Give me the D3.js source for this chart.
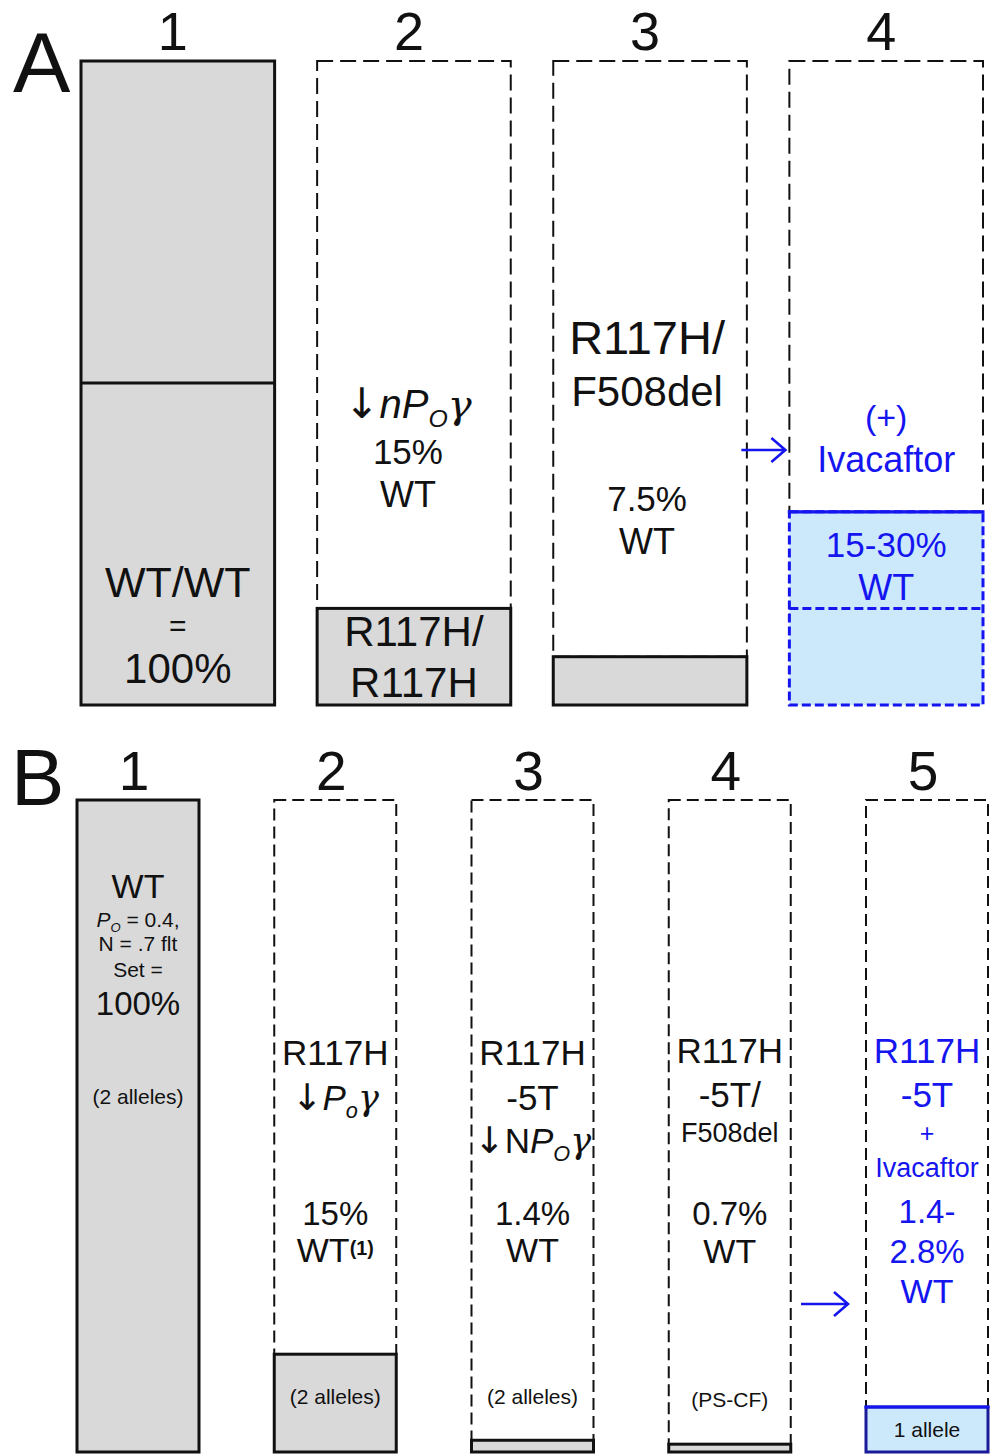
<!DOCTYPE html>
<html><head><meta charset="utf-8">
<script src="https://cdn.jsdelivr.net/npm/d3@7"></script>
<style>html,body{margin:0;padding:0;background:#fff} text{white-space:pre}</style>
</head><body>
<svg id="chart" width="996" height="1454"></svg>
<script>
// ---------- DATA ----------
const panelACategories = ["1", "2", "3", "4"];
// height of the lower (solid) block in each column, % of WT/WT
const panelABoxValues = [100, 15, 7.5, 30];
// internal divider line, % of WT/WT
const panelADividerValues = [50, null, null, 15];

const panelBCategories = ["1", "2", "3", "4", "5"];
// schematic block heights as drawn, % of WT
const panelBBoxValues = [100, 15, 1.8, 1.2, 6.9];

// texts (markup: *italic*, _{subscript}, ^{superscript})
const textA1 = ["WT/WT", "=", "100%"];
const textA2 = ["↓*nP*_{O}*γ*", "15%", "WT"];
const textA2Box = ["R117H/", "R117H"];
const textA3 = ["R117H/", "F508del", "7.5%", "WT"];
const textA4 = ["(+)", "Ivacaftor", "15-30%", "WT"];

const textB1 = ["WT", "*P*_{O} = 0.4,", "N = .7 flt", "Set =", "100%", "(2 alleles)"];
const textB2 = ["R117H", "↓*P*_{o}*γ*", "15%", "WT^{(1)}"];
const textB2Box = ["(2 alleles)"];
const textB3 = ["R117H", "-5T", "↓N*P*_{O}*γ*", "1.4%", "WT", "(2 alleles)"];
const textB4 = ["R117H", "-5T/", "F508del", "0.7%", "WT", "(PS-CF)"];
const textB5 = ["R117H", "-5T", "+", "Ivacaftor", "1.4-", "2.8%", "WT"];
const textB5Box = ["1 allele"];

// ---------- STYLE ----------
const FONT = "'Liberation Sans', Arial, Helvetica, sans-serif";
const SYMBOL_FONT = "'DejaVu Sans', sans-serif";
const GREEK_FONT = "'DejaVu Serif', serif";
const GRAY = "#d9d9d9";
const LIGHTBLUE = "#cce9fb";
const BLUE = "#1515f0";
const INK = "#111";

const svg = d3.select("#chart");

function appendPlain(t, str, italic, pendingRef) {
  // split off arrows / greek letters so they get a suitable font
  str.split(/([↓γ])/).filter(s => s.length).forEach(s => {
    const ts = t.append("tspan").text(s);
    if (s === "↓") ts.attr("font-family", SYMBOL_FONT).attr("font-size", "1.05em");
    if (s === "γ") ts.attr("font-family", GREEK_FONT);
    if (italic) ts.attr("font-style", "italic");
    if (pendingRef.v) { ts.attr("dy", pendingRef.v); pendingRef.v = 0; }
  });
}

function richText(g, str, x, y, size, color, anchor) {
  const t = g.append("text")
    .attr("x", x).attr("y", y)
    .attr("text-anchor", anchor || "middle")
    .attr("font-family", FONT)
    .attr("font-size", size)
    .attr("fill", color || INK);
  const parts = str.split(/(\*[^*]+\*|_\{[^}]+\}|\^\{[^}]+\})/).filter(s => s.length);
  const pending = { v: 0 };
  parts.forEach(p => {
    if (p.startsWith("_{")) {
      const sh = size * 0.22;
      t.append("tspan").text(p.slice(2, -1)).attr("font-style", "italic").attr("font-size", size * 0.62)
        .attr("dy", pending.v + sh);
      pending.v = -sh;
      return;
    }
    if (p.startsWith("^{")) {
      const sh = -size * 0.22;
      t.append("tspan").text(p.slice(2, -1)).attr("font-weight", "bold").attr("font-size", size * 0.58)
        .attr("dy", pending.v + sh);
      pending.v = -sh;
      return;
    }
    if (p.startsWith("*")) appendPlain(t, p.slice(1, -1), true, pending);
    else appendPlain(t, p, false, pending);
  });
  return t;
}

function textBlock(g, lines, cx, layout, color) {
  lines.forEach((s, i) => richText(g, s, cx + (layout[i][2] || 0), layout[i][0], layout[i][1], color));
}

function arrow(g, x1, x2, y) {
  g.append("path")
    .attr("d", `M${x1},${y}H${x2}M${x2 - 14},${y - 12}L${x2},${y}L${x2 - 14},${y + 12}`)
    .attr("fill", "none").attr("stroke", BLUE).attr("stroke-width", 2.6)
    .attr("stroke-linejoin", "miter");
}

function drawPanel(g, cats, boxVals, dividers, x, y, opt) {
  const n = cats.length;
  cats.forEach((c, i) => {
    const x0 = x(c), w = x.bandwidth();
    const v = boxVals[i];
    const isBlue = i === n - 1;
    if (v < 100) {
      g.append("rect")
        .attr("x", x0).attr("y", y(100)).attr("width", w).attr("height", y(v) - y(100))
        .attr("fill", "none").attr("stroke", INK).attr("stroke-width", 2)
        .attr("stroke-dasharray", opt.dash);
    }
    const box = g.append("rect")
      .attr("x", x0).attr("y", y(v)).attr("width", w).attr("height", y(0) - y(v))
      .attr("fill", isBlue ? LIGHTBLUE : GRAY)
      .attr("stroke-width", 3).attr("stroke-linejoin", "miter");
    if (isBlue) {
      box.attr("stroke", opt.blueDashed ? BLUE : "#1a1a9a")
         .attr("stroke-dasharray", opt.blueDashed ? "9,4" : null);
      g.append("line").attr("x1", x0 - 1.5).attr("x2", x0 + w + 1.5)
        .attr("y1", y(v)).attr("y2", y(v))
        .attr("stroke", BLUE).attr("stroke-width", 3.2);
    } else {
      box.attr("stroke", INK);
    }
    const d = dividers ? dividers[i] : null;
    if (d != null) {
      g.append("line").attr("x1", x0).attr("x2", x0 + w)
        .attr("y1", y(d)).attr("y2", y(d))
        .attr("stroke", isBlue ? BLUE : INK).attr("stroke-width", 3)
        .attr("stroke-dasharray", isBlue ? "9,4" : null);
    }
    g.append("text")
      .attr("x", x0 + w / 2 + opt.numDx).attr("y", opt.numY)
      .attr("text-anchor", "middle").attr("font-family", FONT)
      .attr("font-size", opt.numSize).attr("fill", INK).text(c);
  });
}

// ---------- PANEL A ----------
const gA = svg.append("g");
const xA = d3.scaleBand().domain(panelACategories).range([81, 983]).paddingInner(0.18).paddingOuter(0);
const yA = d3.scaleLinear().domain([0, 100]).range([705, 61]);
drawPanel(gA, panelACategories, panelABoxValues, panelADividerValues, xA, yA,
  { dash: "16,7", blueDashed: true, numY: 50, numSize: 54, numDx: -5 });
gA.append("text").attr("x", 13).attr("y", 92).attr("font-family", FONT)
  .attr("font-size", 86).attr("fill", INK).text("A");

const cA = c => xA(c) + xA.bandwidth() / 2;
textBlock(gA, textA1, cA("1"), [[597, 43], [636, 30], [683, 42]]);
textBlock(gA, textA2, cA("2"), [[418, 40, -6], [464, 35, -6], [507, 36, -6]]);
textBlock(gA, textA2Box, cA("2"), [[646, 42], [697, 42]]);
textBlock(gA, textA3, cA("3"), [[354, 47, -3], [406, 42, -3], [511, 35, -3], [554, 36, -3]]);
textBlock(gA, textA4, cA("4"), [[429, 34], [472, 36], [557, 35], [600, 36]], BLUE);
arrow(gA, xA("4") - 48, xA("4") - 4, 450);

// ---------- PANEL B ----------
const gB = svg.append("g");
const xB = d3.scaleBand().domain(panelBCategories).range([77, 988]).paddingInner(0.3815).paddingOuter(0);
const yB = d3.scaleLinear().domain([0, 100]).range([1452, 800]);
drawPanel(gB, panelBCategories, panelBBoxValues, null, xB, yB,
  { dash: "12,6", blueDashed: false, numY: 790, numSize: 55, numDx: -4 });
gB.append("text").attr("x", 11).attr("y", 805).attr("font-family", FONT)
  .attr("font-size", 80).attr("fill", INK).text("B");

const cB = c => xB(c) + xB.bandwidth() / 2;
textBlock(gB, textB1, cB("1"), [[898, 34], [927, 21], [951, 21], [977, 21], [1015, 33], [1104, 21]]);
textBlock(gB, textB2, cB("2"), [[1065, 35], [1110, 35], [1225, 33], [1262, 34]]);
textBlock(gB, textB2Box, cB("2"), [[1404, 21]]);
textBlock(gB, textB3, cB("3"), [[1065, 35], [1110, 35], [1153, 35], [1225, 33], [1262, 34], [1404, 21]]);
textBlock(gB, textB4, cB("4"), [[1063, 35], [1107, 35], [1142, 27], [1225, 33], [1263, 34], [1407, 21]]);
textBlock(gB, textB5, cB("5"), [[1063, 35], [1107, 35], [1142, 25], [1177, 27], [1223, 33], [1263, 33], [1303, 34]], BLUE);
textBlock(gB, textB5Box, cB("5"), [[1437, 21]]);
arrow(gB, xB("5") - 65, xB("5") - 18, 1304);
</script>
</body></html>
